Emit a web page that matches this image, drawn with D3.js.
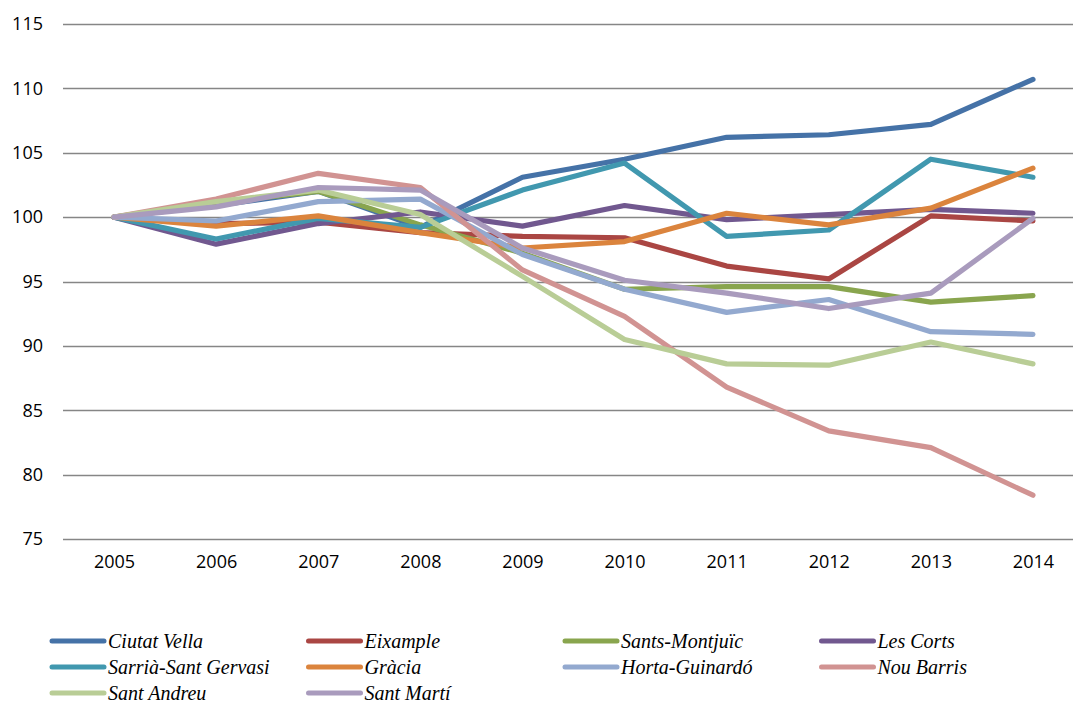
<!DOCTYPE html>
<html>
<head>
<meta charset="utf-8">
<script src="https://cdn.jsdelivr.net/npm/d3@7"></script>
<style>
  body { margin: 0; background: #fff; }
  svg { display: block; }
</style>
</head>
<body>
<div id="chart"></div>
<script>
// Data
const years = ['2005', '2006', '2007', '2008', '2009', '2010', '2011', '2012', '2013', '2014'];
const yTicks = [75, 80, 85, 90, 95, 100, 105, 110, 115];

const ciutatVella   = [100, 100.9, 102.0, 99.2, 103.1, 104.5, 106.2, 106.4, 107.2, 110.7];
const eixample      = [100, 99.5, 99.6, 98.8, 98.5, 98.4, 96.2, 95.2, 100.1, 99.7];
const santsMontjuic = [100, 101.1, 102.0, 99.4, 97.2, 94.4, 94.6, 94.6, 93.4, 93.9];
const lesCorts      = [100, 97.9, 99.5, 100.4, 99.3, 100.9, 99.8, 100.2, 100.6, 100.3];
const sarriaSG      = [100, 98.3, 99.9, 99.2, 102.1, 104.2, 98.5, 99.0, 104.5, 103.1];
const gracia        = [100, 99.3, 100.1, 98.8, 97.6, 98.1, 100.3, 99.4, 100.7, 103.8];
const hortaGuinardo = [100, 99.7, 101.2, 101.4, 97.1, 94.4, 92.6, 93.6, 91.1, 90.9];
const nouBarris     = [100, 101.4, 103.4, 102.3, 95.9, 92.3, 86.8, 83.4, 82.1, 78.4];
const santAndreu    = [100, 101.2, 102.1, 100.2, 95.4, 90.5, 88.6, 88.5, 90.3, 88.6];
const santMarti     = [100, 100.8, 102.3, 102.1, 97.6, 95.1, 94.1, 92.9, 94.1, 99.9];

const seriesNames = ['Ciutat Vella', 'Eixample', 'Sants-Montjuïc', 'Les Corts', 'Sarrià-Sant Gervasi',
  'Gràcia', 'Horta-Guinardó', 'Nou Barris', 'Sant Andreu', 'Sant Martí'];
const seriesValues = [ciutatVella, eixample, santsMontjuic, lesCorts, sarriaSG,
  gracia, hortaGuinardo, nouBarris, santAndreu, santMarti];
const seriesColors = ['#4572A7', '#AA4643', '#89A54E', '#71588F', '#4198AF',
  '#DB843D', '#93A9CF', '#D19392', '#B9CD96', '#A99BBD'];

//Chart dimensions
const W = 1073, H = 704;
const plot = { left: 63, right: 1084, top: 24, bot: 539 };

// Scales
const xScale = d3.scalePoint()
  .domain(years)
  .range([plot.left, plot.right])
  .padding(0.5);

const yScale = d3.scaleLinear()
  .domain([75, 115])
  .range([plot.bot, plot.top]);

//svg
const svg = d3.select('#chart').append('svg')
  .attr('width', W)
  .attr('height', H);

// Gridlines
svg.append('g')
  .selectAll('line')
  .data(yTicks)
  .join('line')
  .attr('x1', plot.left)
  .attr('x2', plot.right)
  .attr('y1', d => Math.round(yScale(d)) + 0.5)
  .attr('y2', d => Math.round(yScale(d)) + 0.5)
  .attr('stroke', '#868686')
  .attr('stroke-width', 1.6);

// Axes
const yAxis = d3.axisLeft(yScale).tickValues(yTicks).tickSize(0).tickPadding(20);
const xAxis = d3.axisBottom(xScale).tickSize(0).tickPadding(16);

svg.append('g')
  .attr('transform', `translate(${plot.left}, 0)`)
  .call(yAxis)
  .call(g => g.select('.domain').remove())
  .selectAll('text')
  .attr('font-family', '"Open Sans", sans-serif')
  .attr('font-size', 18)
  .attr('fill', '#000');

svg.append('g')
  .attr('transform', `translate(0, ${plot.bot})`)
  .call(xAxis)
  .call(g => g.select('.domain').remove())
  .selectAll('text')
  .attr('font-family', '"Open Sans", sans-serif')
  .attr('font-size', 18)
  .attr('fill', '#000');

// Lines
const line = d3.line()
  .x((d, i) => xScale(years[i]))
  .y(d => yScale(d));

svg.append('g')
  .selectAll('path')
  .data(seriesValues)
  .join('path')
  .attr('d', line)
  .attr('fill', 'none')
  .attr('stroke', (d, i) => seriesColors[i])
  .attr('stroke-width', 5.2)
  .attr('stroke-linejoin', 'round')
  .attr('stroke-linecap', 'round');

// Legend
const legend = svg.append('g')
  .attr('class', 'legend');

const legendItem = legend.selectAll('g')
  .data(seriesNames)
  .join('g')
  .attr('transform', (d, i) => `translate(${52 + (i % 4) * 256.5}, ${641 + Math.floor(i / 4) * 26})`);

legendItem.append('line')
  .attr('x1', 0)
  .attr('x2', 52)
  .attr('stroke', (d, i) => seriesColors[i])
  .attr('stroke-width', 5)
  .attr('stroke-linecap', 'round');

legendItem.append('text')
  .attr('x', 56)
  .attr('dy', '0.34em')
  .attr('font-family', '"Liberation Serif", serif')
  .attr('font-style', 'italic')
  .attr('font-size', 20)
  .attr('fill', '#000')
  .text(d => d);
</script>
</body>
</html>
